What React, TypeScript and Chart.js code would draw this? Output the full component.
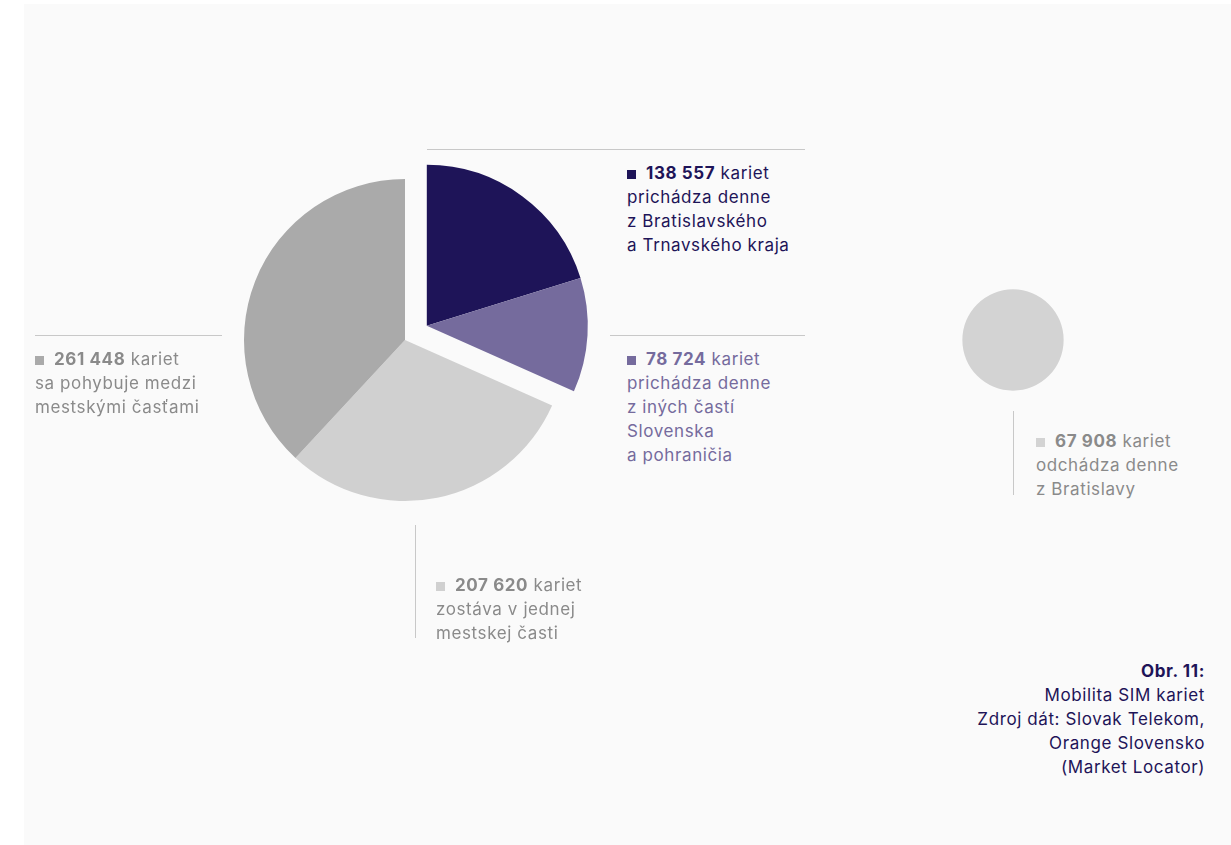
import React, { useEffect, useRef } from "react";
import { Chart, registerables } from "chart.js";

Chart.register(...registerables);

// ---- data ----
const sliceLabels = [
  "prichádza denne z Bratislavského a Trnavského kraja",
  "prichádza denne z iných častí Slovenska a pohraničia",
  "zostáva v jednej mestskej časti",
  "sa pohybuje medzi mestskými časťami",
];
const sliceValues = [138557, 78724, 207620, 261448];
const sliceColors = ["#1e1458", "#756b9d", "#d0d0d0", "#aaaaaa"];
const explodedCount = 2; // first two slices pulled out together
const outValue = 67908;
const outColor = "#d3d3d3";

const MAIN_RADIUS = 161;
const EXPLODE = 26;

const FONT = "Inter, 'Noto Sans', sans-serif";
const LETTER = "0.6px";

const explodePlugin = {
  id: "explodeGroup",
  afterDatasetsUpdate(chart: any) {
    const meta = chart.getDatasetMeta(0);
    const total = sliceValues.reduce((a, b) => a + b, 0);
    const frac = sliceValues.slice(0, explodedCount).reduce((a, b) => a + b, 0) / total;
    const mid = -Math.PI / 2 + frac * Math.PI; // middle angle of the group
    const dx = Math.cos(mid) * EXPLODE;
    const dy = Math.sin(mid) * EXPLODE;
    for (let i = 0; i < explodedCount; i++) {
      const el = meta.data[i];
      el.x += dx;
      el.y += dy;
    }
  },
};

function Label(props: {
  left: number;
  top: number;
  color: string;
  marker: string;
  value: string;
  lines: string[];
}) {
  return (
    <div
      style={{
        position: "absolute",
        left: props.left,
        top: props.top,
        color: props.color,
        fontFamily: FONT,
        fontSize: 17,
        letterSpacing: LETTER,
        lineHeight: "24px",
        whiteSpace: "nowrap",
      }}
    >
      <div>
        <span
          style={{
            display: "inline-block",
            width: 9,
            height: 9,
            background: props.marker,
            marginRight: 10,
            verticalAlign: "0px",
          }}
        />
        <b style={{ fontWeight: 700 }}>{props.value}</b> kariet
      </div>
      {props.lines.map((l, i) => (
        <div key={i}>{l}</div>
      ))}
    </div>
  );
}

function Line(props: { x: number; y: number; w: number; h: number }) {
  return (
    <div
      style={{
        position: "absolute",
        left: props.x,
        top: props.y,
        width: props.w,
        height: props.h,
        background: "#c8c8c8",
      }}
    />
  );
}

export default function App() {
  const mainRef = useRef<HTMLCanvasElement>(null);
  const outRef = useRef<HTMLCanvasElement>(null);

  useEffect(() => {
    document.body.style.margin = "0";
    const total = sliceValues.reduce((a, b) => a + b, 0);
    const main = new Chart(mainRef.current!, {
      type: "pie",
      data: {
        labels: sliceLabels,
        datasets: [
          {
            data: sliceValues,
            backgroundColor: sliceColors,
            borderWidth: 0,
          },
        ],
      },
      options: {
        animation: false,
        responsive: false,
        events: [],
        radius: MAIN_RADIUS,
        plugins: { legend: { display: false }, tooltip: { enabled: false } },
      } as any,
      plugins: [explodePlugin],
    });
    const out = new Chart(outRef.current!, {
      type: "pie",
      data: {
        labels: ["odchádza denne z Bratislavy"],
        datasets: [{ data: [outValue], backgroundColor: [outColor], borderWidth: 0 }],
      },
      options: {
        animation: false,
        responsive: false,
        events: [],
        radius: MAIN_RADIUS * Math.sqrt(outValue / total),
        plugins: { legend: { display: false }, tooltip: { enabled: false } },
      } as any,
    });
    return () => {
      main.destroy();
      out.destroy();
    };
  }, []);

  return (
    <div style={{ position: "absolute", left: 0, top: 0, width: 1231, height: 845, background: "#ffffff" }}>
      <div style={{ position: "absolute", left: 24, top: 4, width: 1207, height: 841, background: "#fafafa" }} />
      <canvas
        ref={mainRef}
        width={400}
        height={400}
        style={{ position: "absolute", left: 205, top: 140, width: 400, height: 400 }}
      />
      <canvas
        ref={outRef}
        width={140}
        height={140}
        style={{ position: "absolute", left: 943, top: 270, width: 140, height: 140 }}
      />
      <Line x={427} y={149} w={378} h={1} />
      <Line x={610} y={335} w={195} h={1} />
      <Line x={35} y={335} w={187} h={1} />
      <Line x={415} y={525} w={1} h={113} />
      <Line x={1013} y={411} w={1} h={84} />

      <Label
        left={627}
        top={161}
        color="#1e1458"
        marker="#1e1458"
        value="138 557"
        lines={["prichádza denne", "z Bratislavského", "a Trnavského kraja"]}
      />
      <Label
        left={627}
        top={347}
        color="#756b9d"
        marker="#756b9d"
        value="78 724"
        lines={["prichádza denne", "z iných častí", "Slovenska", "a pohraničia"]}
      />
      <Label
        left={35}
        top={347}
        color="#8a8a8a"
        marker="#aaaaaa"
        value="261 448"
        lines={["sa pohybuje medzi", "mestskými časťami"]}
      />
      <Label
        left={436}
        top={573}
        color="#8a8a8a"
        marker="#d0d0d0"
        value="207 620"
        lines={["zostáva v jednej", "mestskej časti"]}
      />
      <Label
        left={1036}
        top={429}
        color="#8a8a8a"
        marker="#d3d3d3"
        value="67 908"
        lines={["odchádza denne", "z Bratislavy"]}
      />

      <div
        style={{
          position: "absolute",
          right: 1231 - 1205,
          top: 659,
          textAlign: "right",
          color: "#1e1458",
          fontFamily: FONT,
          fontSize: 17,
          letterSpacing: LETTER,
          lineHeight: "24px",
          whiteSpace: "nowrap",
        }}
      >
        <div style={{ fontWeight: 700 }}>Obr. 11:</div>
        <div>Mobilita SIM kariet</div>
        <div>Zdroj dát: Slovak Telekom,</div>
        <div>Orange Slovensko</div>
        <div>(Market Locator)</div>
      </div>
    </div>
  );
}
